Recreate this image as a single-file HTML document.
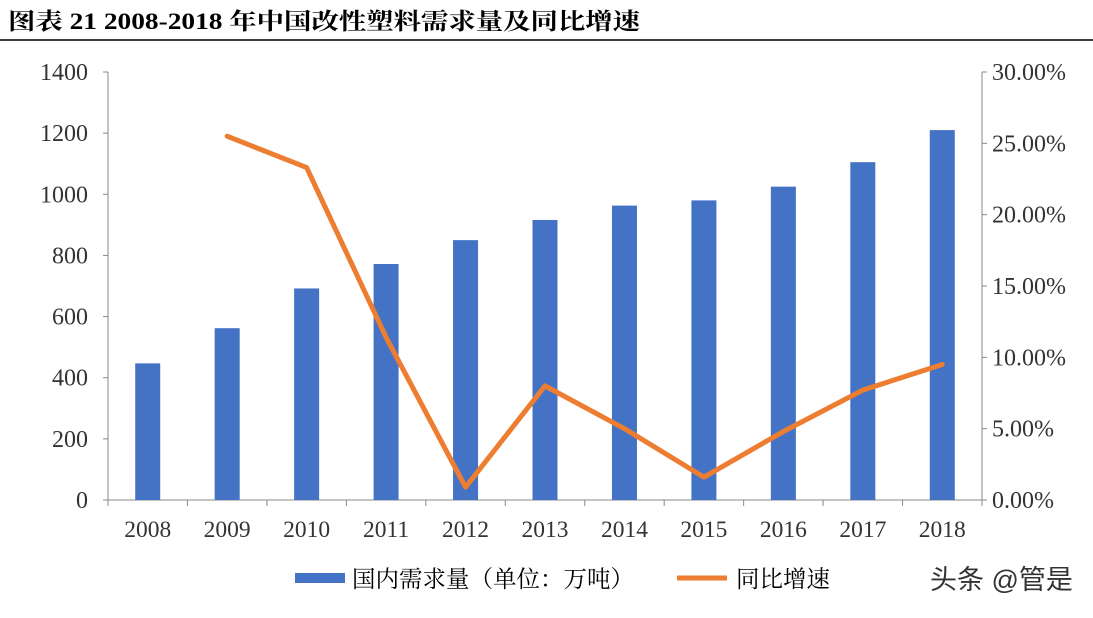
<!DOCTYPE html>
<html><head><meta charset="utf-8"><style>
body{margin:0;background:#fff;width:1093px;height:613px;overflow:hidden;font-family:"Liberation Serif","Noto Serif CJK SC",serif;}
</style></head><body>
<svg width="1093" height="613" xmlns="http://www.w3.org/2000/svg">
<text x="8" y="29" font-size="23" font-weight="bold" textLength="632" lengthAdjust="spacingAndGlyphs" font-family="Liberation Serif, Noto Serif CJK SC, serif" fill="#000">图表 21 2008-2018 年中国改性塑料需求量及同比增速</text>
<line x1="0" y1="40" x2="1093" y2="40" stroke="#000" stroke-width="1.5"/>
<g id="plot"></g>
<g>
<rect x="295" y="573" width="50" height="10" fill="#4472c4"/>
<text x="352" y="587" font-size="23.5" font-family="Liberation Serif, Noto Serif CJK SC, serif">国内需求量（单位：万吨）</text>
<line x1="677" y1="578" x2="727" y2="578" stroke="#ed7d31" stroke-width="5"/>
<text x="736" y="587" font-size="23.5" font-family="Liberation Serif, Noto Serif CJK SC, serif">同比增速</text>
</g>
<text x="930" y="589" font-size="27" fill="#333" font-family="Liberation Sans, Noto Sans CJK SC, sans-serif">头条 @管是</text>
</svg>
<script>
const categories=["2008","2009","2010","2011","2012","2013","2014","2015","2016","2017","2018"];
const demand=[447,562,692,772,850,916,963,980,1025,1105,1210];
const growth=[null,25.5,23.3,11.4,0.9,8.0,5.0,1.6,4.8,7.7,9.5];
const leftTicks=[0,200,400,600,800,1000,1200,1400];
const rightTicks=[0,5,10,15,20,25,30];
const NS="http://www.w3.org/2000/svg";
const g=document.getElementById('plot');
const X0=108,X1=982,Y0=500,Y1=72;
const band=(X1-X0)/categories.length;
const xc=i=>X0+band*(i+0.5);
const yL=v=>Y0-(v/1400)*(Y0-Y1);
const yR=v=>Y0-(v/30)*(Y0-Y1);
function el(t,a){const e=document.createElementNS(NS,t);for(const k in a)e.setAttribute(k,a[k]);g.appendChild(e);return e;}
let ax=el('line',{x1:X0,y1:Y1,x2:X0,y2:Y0,stroke:'#888'});

ax=el('line',{x1:X1,y1:Y1,x2:X1,y2:Y0,stroke:'#888'});

ax=el('line',{x1:X0,y1:Y0,x2:X1,y2:Y0,stroke:'#888'});

leftTicks.forEach(v=>{const y=yL(v);
 let t=el('line',{x1:X0-5,y1:y,x2:X0,y2:y,stroke:'#888'});
 
 let tx=el('text',{x:X0-20,y:y+8,'text-anchor':'end','font-size':24,fill:'#333'});tx.textContent=v;
 });
rightTicks.forEach(v=>{const y=yR(v);
 let t=el('line',{x1:X1,y1:y,x2:X1+5,y2:y,stroke:'#888'});
 
 let tx=el('text',{x:X1+10,y:y+8,'font-size':24,fill:'#333'});tx.textContent=v.toFixed(2)+'%';
 });
for(let i=0;i<=categories.length;i++){let t=el('line',{x1:X0+band*i,y1:Y0,x2:X0+band*i,y2:Y0+6,stroke:'#888'});
 }
categories.forEach((c,i)=>{
 let b=el('rect',{x:xc(i)-12.5,y:yL(demand[i]),width:25,height:Y0-yL(demand[i]),fill:'#4472c4'});
 
 let tx=el('text',{x:xc(i),y:537,'text-anchor':'middle','font-size':23.5,fill:'#333'});tx.textContent=c;
 });
const pts=growth.map((v,i)=>v==null?null:xc(i)+','+yR(v)).filter(p=>p);
let pl=el('polyline',{points:pts.join(' '),fill:'none',stroke:'#ed7d31','stroke-width':5,'stroke-linejoin':'round','stroke-linecap':'round'});

</script>
</body></html>
